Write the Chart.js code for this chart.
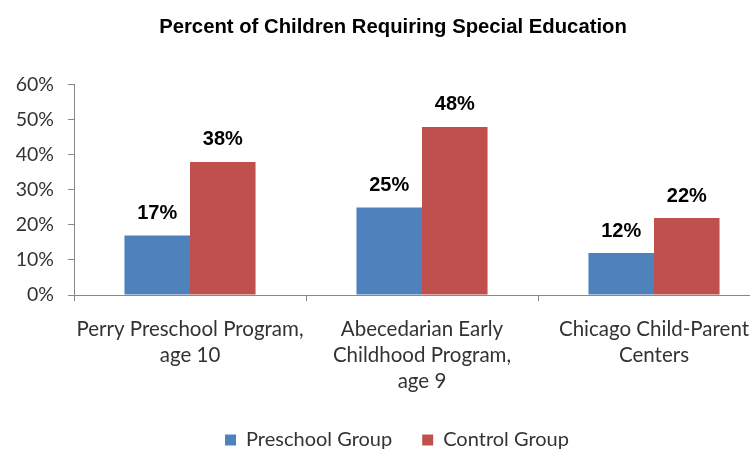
<!DOCTYPE html>
<html>
<head>
<meta charset="utf-8">
<script src="https://cdn.jsdelivr.net/npm/chart.js@4.4.1/dist/chart.umd.min.js"></script>
<style>
  html, body { margin: 0; padding: 0; background: #ffffff; overflow: hidden; }
  #wrap { position: absolute; left: 0; top: 0; width: 792px; height: 460px; }
</style>
</head>
<body>
<div id="wrap"><canvas id="c"></canvas></div>
<script>
const categories = [
  ['Perry Preschool Program,', 'age 10'],
  ['Abecedarian Early', 'Childhood Program,', 'age 9'],
  ['Chicago Child-Parent', 'Centers']
];
const preschoolGroup = [17, 25, 12];
const controlGroup = [38, 48, 22];
const seriesNames = ['Preschool Group', 'Control Group'];
const yTicks = [0, 10, 20, 30, 40, 50, 60];
const chartTitle = 'Percent of Children Requiring Special Education';

const labelPlugin = {
  id: 'barValueLabels',
  afterDatasetsDraw(chart) {
    const ctx = chart.ctx;
    ctx.save();
    ctx.font = 'bold 20px "Liberation Sans", Arial, sans-serif';
    ctx.fillStyle = '#000000';
    ctx.textAlign = 'center';
    ctx.textBaseline = 'middle';
    chart.data.datasets.forEach((ds, i) => {
      const meta = chart.getDatasetMeta(i);
      meta.data.forEach((bar, j) => {
        ctx.fillText(ds.data[j] + '%', bar.x, bar.y - 22);
      });
    });
    ctx.restore();
  }
};

const shiftPlugin = {
  id: 'shiftBoxes',
  afterLayout(chart) {
    if (chart.titleBlock) { chart.titleBlock.left += 8; chart.titleBlock.right += 8; }
    if (chart.legend) { chart.legend.left += 12; chart.legend.right += 12; }
  }
};

new Chart(document.getElementById('c'), {
  type: 'bar',
  data: {
    labels: categories,
    datasets: [
      { label: seriesNames[0], data: preschoolGroup, backgroundColor: '#4F81BD', borderWidth: 0 },
      { label: seriesNames[1], data: controlGroup, backgroundColor: '#C0504D', borderWidth: 0 }
    ]
  },
  options: {
    responsive: true,
    maintainAspectRatio: false,
    animation: false,
    devicePixelRatio: 1,
    layout: { padding: { left: 0, right: 22, top: 0, bottom: 0 } },
    datasets: { bar: { categoryPercentage: 0.565, barPercentage: 1.0 } },
    plugins: {
      title: {
        display: true,
        text: chartTitle,
        color: '#000000',
        font: { family: '"Liberation Sans", Arial, sans-serif', size: 20.3, weight: 'bold' },
        padding: { top: 15, bottom: 45.6 }
      },
      legend: {
        display: true,
        position: 'bottom',
        labels: {
          boxWidth: 11,
          boxHeight: 11,
          padding: 30,
          color: '#333333',
          font: { family: 'Lato, "Open Sans", sans-serif', size: 20 }
        }
      },
      tooltip: { enabled: false }
    },
    scales: {
      x: {
        afterFit(scale) { scale.height = 105; },
        grid: { display: true, drawOnChartArea: false, drawTicks: true, tickLength: 6, color: '#888888', offset: true },
        border: { display: true, color: '#888888', width: 1 },
        ticks: {
          color: '#333333',
          padding: 15,
          maxRotation: 0,
          autoSkip: false,
          font: { family: 'Lato, "Open Sans", sans-serif', size: 20.5, lineHeight: 1.27 }
        }
      },
      y: {
        min: 0,
        max: 60,
        afterFit(scale) { scale.width = 74; },
        afterBuildTicks(scale) { scale.ticks = yTicks.map(v => ({ value: v })); },
        grid: { display: true, drawOnChartArea: false, drawTicks: true, tickLength: 6, color: '#888888' },
        border: { display: true, color: '#888888', width: 1 },
        ticks: {
          color: '#333333',
          padding: 14,
          callback: (v) => v + '%',
          font: { family: 'Lato, "Open Sans", sans-serif', size: 19.5 }
        }
      }
    }
  },
  plugins: [labelPlugin, shiftPlugin]
});
</script>
</body>
</html>
